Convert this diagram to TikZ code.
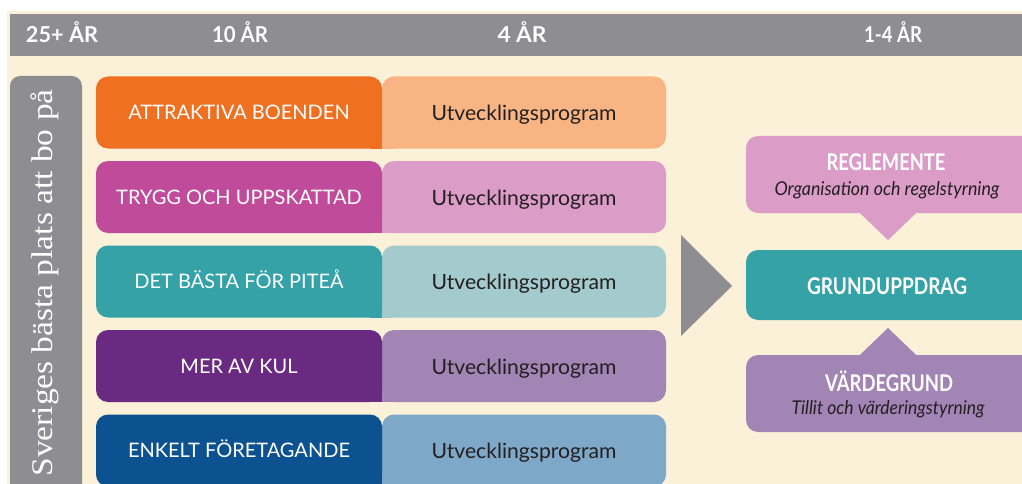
\documentclass[tikz,border=0pt]{standalone}
\usepackage{fontspec}
\setmainfont{Lato}
\newfontfamily\sloganfont{Liberation Serif}
\usetikzlibrary{calc}
\definecolor{cream}{HTML}{FBF0D8}
\definecolor{greyC}{HTML}{8E8E92}
\definecolor{orD}{HTML}{EF7021}
\definecolor{orL}{HTML}{F8B583}
\definecolor{maD}{HTML}{C14B9B}
\definecolor{maL}{HTML}{DB9CC8}
\definecolor{teD}{HTML}{35A2A8}
\definecolor{teL}{HTML}{A3CACD}
\definecolor{puD}{HTML}{6B2A82}
\definecolor{puL}{HTML}{A284B5}
\definecolor{blD}{HTML}{0C5291}
\definecolor{blL}{HTML}{7EA8C8}
\definecolor{inkC}{HTML}{231F20}
\tikzset{
  hdrtext/.style={text=white, inner sep=0pt, anchor=base, font=\bfseries\fontsize{22}{22}\selectfont},
  darkbox/.style={minimum width=286pt, minimum height=72pt, inner sep=0pt, rounded corners=12pt, text=white, font=\fontsize{20}{20}\selectfont},
  lightbox/.style={minimum width=284pt, minimum height=72pt, inner sep=0pt, rounded corners=12pt, text=inkC, font=\fontsize{21}{21}\selectfont},
  rbox/.style={minimum width=296pt, inner sep=0pt, rounded corners=12pt},
  rtitle/.style={text=white, inner sep=0pt, anchor=base, font=\bfseries\fontsize{23}{23}\selectfont},
  rsub/.style={text=inkC, inner sep=0pt, anchor=base, font=\itshape\fontsize{19}{19}\selectfont},
}
\begin{document}
\begin{tikzpicture}[x=1pt,y=-1pt]
\useasboundingbox (0,0) rectangle (1022,484);
\clip (0,0) rectangle (1022,484);
\fill[white] (0,0) rectangle (1022,484);
\fill[cream] (7,11) rectangle (1022,484);
% header bar
\node[fill=greyC, minimum width=1012pt, minimum height=42pt, inner sep=0pt] (bar) at (516,35) {};
\node[hdrtext] (h1) at (62,43) {\resizebox{72pt}{\height}{25+ ÅR}};
\node[hdrtext] (h2) at (240,43) {\resizebox{56pt}{\height}{10 ÅR}};
\node[hdrtext] (h3) at (522,43) {\resizebox{49pt}{\height}{4 ÅR}};
\node[hdrtext] (h4) at (893,43) {\resizebox{58pt}{\height}{1-4 ÅR}};
% side bar
\node[fill=greyC, minimum width=72pt, minimum height=450pt, inner sep=0pt, rounded corners=10pt] (side) at (46,301) {};
\node[rotate=90, anchor=base, inner sep=0pt, text=white, font=\sloganfont\fontsize{30}{30}\selectfont] (slogan) at (52,283) {\resizebox{387pt}{\height}{Sveriges bästa plats att bo på}};
% rows
\foreach \i/\y/\dc/\lc/\t in {1/112.5/orD/orL/ATTRAKTIVA BOENDEN,2/197/maD/maL/TRYGG OCH UPPSKATTAD,3/281.5/teD/teL/DET BÄSTA FÖR PITEÅ,4/366/puD/puL/MER AV KUL,5/450.5/blD/blL/ENKELT FÖRETAGANDE}{
  \node[lightbox, fill=\lc] (l\i) at (524,\y) {};
  \fill[\lc] (l\i.south west) rectangle ++(12,-12);
  \node[anchor=base, inner sep=0pt, text=inkC, font=\fontsize{21}{21}\selectfont] (lt\i) at ($(l\i.center)+(0,8)$) {\resizebox{185pt}{\height}{Utvecklingsprogram}};
  \node[darkbox, fill=\dc] (d\i) at (239,\y) {};
  \fill[\dc] (d\i.south east) rectangle ++(-12,-12);
  \node[anchor=base, inner sep=0pt, text=white, font=\fontsize{20}{20}\selectfont] (dt\i) at ($(d\i.center)+(0,7)$) {\t};
}
% big arrow
\fill[greyC] (681,235) -- (732,286) -- (681,336) -- cycle;
% right boxes
\node[rbox, fill=maL, minimum height=77pt] (reg) at (894,174.5) {};
\node[rbox, fill=teD, minimum height=70pt] (grund) at (894,285) {};
\node[rbox, fill=puL, minimum height=77pt] (varde) at (894,393.5) {};
\coordinate (pt1) at (888,240);
\coordinate (pt2) at (888,328);
\fill[maL] ($(pt1 |- reg.south)+(-29,-1)$) -- ($(pt1 |- reg.south)+(29,-1)$) -- (pt1) -- cycle;
\fill[puL] ($(pt2 |- varde.north)+(-29,1)$) -- ($(pt2 |- varde.north)+(29,1)$) -- (pt2) -- cycle;
\node[rtitle] (regT) at (886,171) {\resizebox{119pt}{\height}{REGLEMENTE}};
\node[rsub] (regS) at (887,195) {\resizebox{225pt}{\height}{Organisation och regelstyrning}};
\node[rtitle] (grundT) at (887,294) {\resizebox{160pt}{\height}{GRUNDUPPDRAG}};
\node[rtitle] (vardeT) at (889,391) {\resizebox{128pt}{\height}{VÄRDEGRUND}};
\node[rsub] (vardeS) at (888,414) {\resizebox{193pt}{\height}{Tillit och värderingstyrning}};
\end{tikzpicture}
\end{document}
